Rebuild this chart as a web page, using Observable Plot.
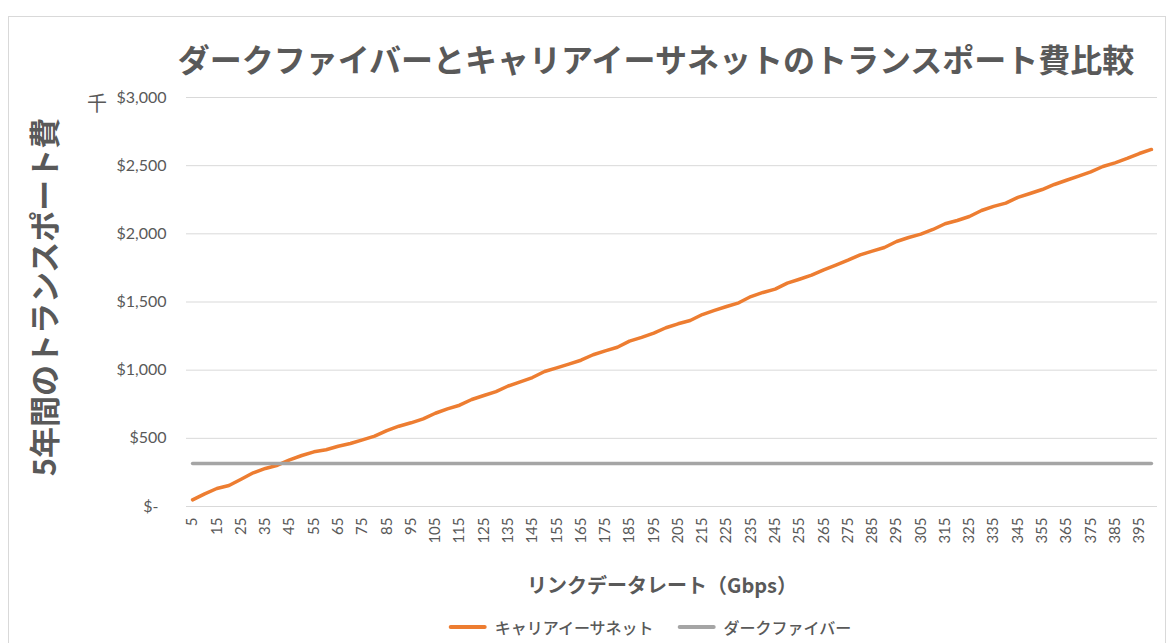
<!DOCTYPE html>
<html lang="ja">
<head>
<meta charset="utf-8">
<script src="https://cdn.jsdelivr.net/npm/d3@7"></script>
<script src="https://cdn.jsdelivr.net/npm/@observablehq/plot@0.6"></script>
<style>
  html, body { margin: 0; padding: 0; background: #fff; }
  #wrap { position: relative; width: 1167px; height: 643px; overflow: hidden; background: #fff;
          font-family: "Noto Sans CJK JP", "Noto Sans", sans-serif; color: #595959; }
  #frame { position: absolute; left: 8px; top: 16px; width: 1158px; height: 700px;
           box-sizing: border-box; border: 1px solid #d9d9d9; }
  #chart { position: absolute; left: 0; top: 0; }
  .abs { position: absolute; white-space: nowrap; }
  #title { left: 656px; top: 58px; transform: translate(-50%, -50%); font-size: 32px; font-weight: 700; line-height: 1; }
  #ytitle { left: 42px; top: 297px; transform: translate(-50%, -50%) rotate(-90deg); font-size: 31px; font-weight: 700; line-height: 1; }
  #unit { left: 97px; top: 103px; transform: translate(-50%, -50%); font-size: 20px; line-height: 1; }
  #xtitle { left: 662px; top: 585px; transform: translate(-50%, -50%); font-size: 20px; font-weight: 700; line-height: 1; }
  #legend { left: 650px; top: 627px; transform: translate(-50%, -50%); font-size: 16px; font-weight: 500; line-height: 1; display: flex; align-items: center; }
  .sw { display: inline-block; width: 38px; height: 4px; border-radius: 2px; margin-right: 8px; }
  .item { display: flex; align-items: center; margin: 0 12px; }
</style>
</head>
<body>
<div id="wrap">
  <div id="frame"></div>
  <div id="chart"></div>
  <div id="title" class="abs"></div>
  <div id="ytitle" class="abs"></div>
  <div id="unit" class="abs"></div>
  <div id="xtitle" class="abs"></div>
  <div id="legend" class="abs"></div>
</div>
<script>
// Link data rate categories (Gbps)
const rates = [
  5, 10, 15, 20, 25, 30, 35, 40, 45, 50, 55, 60, 65, 70, 75, 80, 85, 90, 95, 100,
  105, 110, 115, 120, 125, 130, 135, 140, 145, 150, 155, 160, 165, 170, 175, 180, 185, 190, 195, 200,
  205, 210, 215, 220, 225, 230, 235, 240, 245, 250, 255, 260, 265, 270, 275, 280, 285, 290, 295, 300,
  305, 310, 315, 320, 325, 330, 335, 340, 345, 350, 355, 360, 365, 370, 375, 380, 385, 390, 395, 400
];

// 5-year transport cost, in thousands of dollars
const carrierEthernet = [
  49, 93, 132, 154, 200, 247, 279, 303, 342, 374, 401, 416, 442, 462, 489, 516, 557, 589, 614, 643,
  684, 716, 743, 785, 814, 843, 884, 914, 946, 990, 1017, 1044, 1073, 1113, 1142, 1168, 1213, 1240, 1271, 1311,
  1340, 1364, 1408, 1438, 1467, 1494, 1540, 1570, 1594, 1638, 1667, 1697, 1736, 1771, 1807, 1846, 1873, 1900, 1944, 1973,
  1998, 2032, 2074, 2098, 2127, 2171, 2201, 2225, 2267, 2296, 2325, 2362, 2393, 2423, 2455, 2494, 2521, 2553, 2589, 2619
];

const darkFiber = [
  315, 315, 315, 315, 315, 315, 315, 315, 315, 315, 315, 315, 315, 315, 315, 315, 315, 315, 315, 315,
  315, 315, 315, 315, 315, 315, 315, 315, 315, 315, 315, 315, 315, 315, 315, 315, 315, 315, 315, 315,
  315, 315, 315, 315, 315, 315, 315, 315, 315, 315, 315, 315, 315, 315, 315, 315, 315, 315, 315, 315,
  315, 315, 315, 315, 315, 315, 315, 315, 315, 315, 315, 315, 315, 315, 315, 315, 315, 315, 315, 315
];

const seriesNames = ["キャリアイーサネット", "ダークファイバー"];
const seriesColors = ["#ED7D31", "#A5A5A5"];

// Labelled categories on the x axis (every other rate)
const xTickLabels = [5, 15, 25, 35, 45, 55, 65, 75, 85, 95, 105, 115, 125, 135, 145, 155, 165, 175, 185, 195,
  205, 215, 225, 235, 245, 255, 265, 275, 285, 295, 305, 315, 325, 335, 345, 355, 365, 375, 385, 395];
const yTicks = [0, 500, 1000, 1500, 2000, 2500, 3000];

const titleText = "ダークファイバーとキャリアイーサネットのトランスポート費比較";
const yTitleText = "5年間のトランスポート費";
const unitText = "千";
const xTitleText = "リンクデータレート（Gbps）";

const carrierRows = rates.map((r, i) => ({rate: r, cost: carrierEthernet[i]}));
const fiberRows = rates.map((r, i) => ({rate: r, cost: darkFiber[i]}));

const fmt = d3.format(",");
const chart = Plot.plot({
  width: 1167,
  height: 643,
  marginLeft: 186,
  marginRight: 10,
  marginTop: 97,
  marginBottom: 137,
  style: {fontFamily: "Lato, 'Noto Sans', sans-serif", color: "#595959", background: "transparent", overflow: "visible"},
  x: {type: "point", domain: rates, padding: 0.5, round: false, label: null},
  y: {domain: [0, 3000], label: null},
  marks: [
    Plot.ruleY(yTicks, {stroke: "#d9d9d9", strokeWidth: 1}),
    Plot.axisY({ticks: yTicks, tickSize: 0, tickPadding: 20, fontSize: 16, label: null,
      tickFormat: d => d === 0 ? "$-\u2002" : "$" + fmt(d)}),
    Plot.axisX({ticks: xTickLabels, tickSize: 0, tickPadding: 11, tickRotate: -90, fontSize: 15, label: null}),
    Plot.line(carrierRows, {x: "rate", y: "cost", stroke: seriesColors[0], strokeWidth: 3.5, strokeLinejoin: "round", strokeLinecap: "round"}),
    Plot.line(fiberRows, {x: "rate", y: "cost", stroke: seriesColors[1], strokeWidth: 3.5, strokeLinejoin: "round", strokeLinecap: "round"})
  ]
});
document.getElementById("chart").appendChild(chart);

document.getElementById("title").textContent = titleText;
document.getElementById("ytitle").textContent = yTitleText;
document.getElementById("unit").textContent = unitText;
document.getElementById("xtitle").textContent = xTitleText;

const legend = document.getElementById("legend");
seriesNames.forEach((name, i) => {
  const item = document.createElement("span");
  item.className = "item";
  const sw = document.createElement("span");
  sw.className = "sw";
  sw.style.background = seriesColors[i];
  const label = document.createElement("span");
  label.textContent = name;
  item.appendChild(sw);
  item.appendChild(label);
  legend.appendChild(item);
});
</script>
</body>
</html>
